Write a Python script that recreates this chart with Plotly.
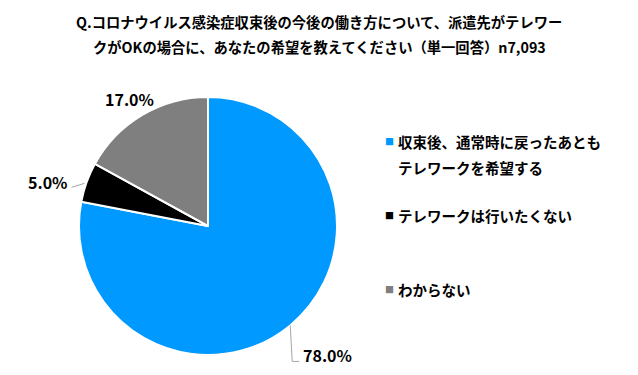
import plotly.graph_objects as go
import math

labels = ["収束後、通常時に戻ったあとも<br>テレワークを希望する", "テレワークは行いたくない", "わからない"]
legend_text = [["収束後、通常時に戻ったあとも", "テレワークを希望する"], ["テレワークは行いたくない"], ["わからない"]]
values = [78.0, 5.0, 17.0]
colors = ["#0099FF", "#000000", "#7F7F7F"]
title_lines = ["Q.コロナウイルス感染症収束後の今後の働き方について、派遣先がテレワー",
               "クがOKの場合に、あなたの希望を教えてください（単一回答）n7,093"]

W, H = 638, 375
cx, cy, r = 208, 226, 129
FONT = "Noto Sans CJK JP"

def px(x):
    return x / W

def py(y):
    return 1 - y / H

fig = go.Figure()
fig.add_trace(go.Pie(
    labels=labels, values=values, sort=False, direction="clockwise", rotation=0,
    marker=dict(colors=colors, line=dict(color="white", width=2)),
    textinfo="none", hoverinfo="label+percent", showlegend=False,
    domain=dict(x=[px(cx - r), px(cx + r)], y=[py(cy + r), py(cy - r)]),
))

annotations = []
shapes = []
# title
for i, line in enumerate(title_lines):
    annotations.append(dict(text=f"<b>{line}</b>", x=0.5, y=py(21 + 26 * i), xref="paper", yref="paper",
                            showarrow=False, xanchor="center", yanchor="middle",
                            font=dict(family=FONT, size=14.3, color="#000")))

# data labels computed from slice angles
total = sum(values)
cum = 0
label_cfg = ["elbow", "arrow", "plain"]
lab_font = dict(family=FONT, size=16, color="#000")
for v, cfg in zip(values, label_cfg):
    mid = (cum + v / 2) / total * 2 * math.pi
    cum += v
    sx, sy = math.sin(mid), -math.cos(mid)
    txt = f"<b>{v:.1f}%</b>"
    ex, ey = cx + r * 1.0 * sx, cy + r * 1.0 * sy
    if cfg == "elbow":
        ty = ey + 30
        shapes.append(dict(type="path", xref="paper", yref="paper",
                           path=f"M {px(ex)},{py(ey)} L {px(ex + 2)},{py(ty + 6)} L {px(ex + 9)},{py(ty + 6)}",
                           line=dict(color="#A6A6A6", width=1)))
        annotations.append(dict(text=txt, x=px(ex + 11), y=py(ty), xref="paper", yref="paper",
                                showarrow=False, xanchor="left", yanchor="middle", font=lab_font))
    elif cfg == "arrow":
        shapes.append(dict(type="line", xref="paper", yref="paper",
                           x0=px(ex - 2), y0=py(ey + 1), x1=px(ex - 15), y1=py(ey + 5),
                           line=dict(color="#A6A6A6", width=1)))
        annotations.append(dict(text=txt, x=px(ex - 17), y=py(ey), xref="paper", yref="paper",
                                showarrow=False, xanchor="right", yanchor="middle", font=lab_font))
    else:
        lx, ly = cx + r * 1.2 * sx, cy + r * 1.2 * sy
        annotations.append(dict(text=txt, x=px(lx), y=py(ly + 6), xref="paper", yref="paper",
                                showarrow=False, xanchor="center", yanchor="middle", font=lab_font))

# legend
leg_y = [141, 216, 289]
for lines, c, y0 in zip(legend_text, colors, leg_y):
    annotations.append(dict(text="■", x=px(389), y=py(y0), xref="paper", yref="paper", showarrow=False,
                            xanchor="center", yanchor="middle", font=dict(family=FONT, size=9, color=c)))
    for j, ln in enumerate(lines):
        annotations.append(dict(text=f"<b>{ln}</b>", x=px(396), y=py(y0 + 26 * j), xref="paper", yref="paper",
                                showarrow=False, xanchor="left", yanchor="middle",
                                font=dict(family=FONT, size=14.5, color="#000")))

fig.update_layout(width=W, height=H, margin=dict(l=0, r=0, t=0, b=0),
                  paper_bgcolor="white", plot_bgcolor="white",
                  annotations=annotations, shapes=shapes)
fig.write_html("out.html")
